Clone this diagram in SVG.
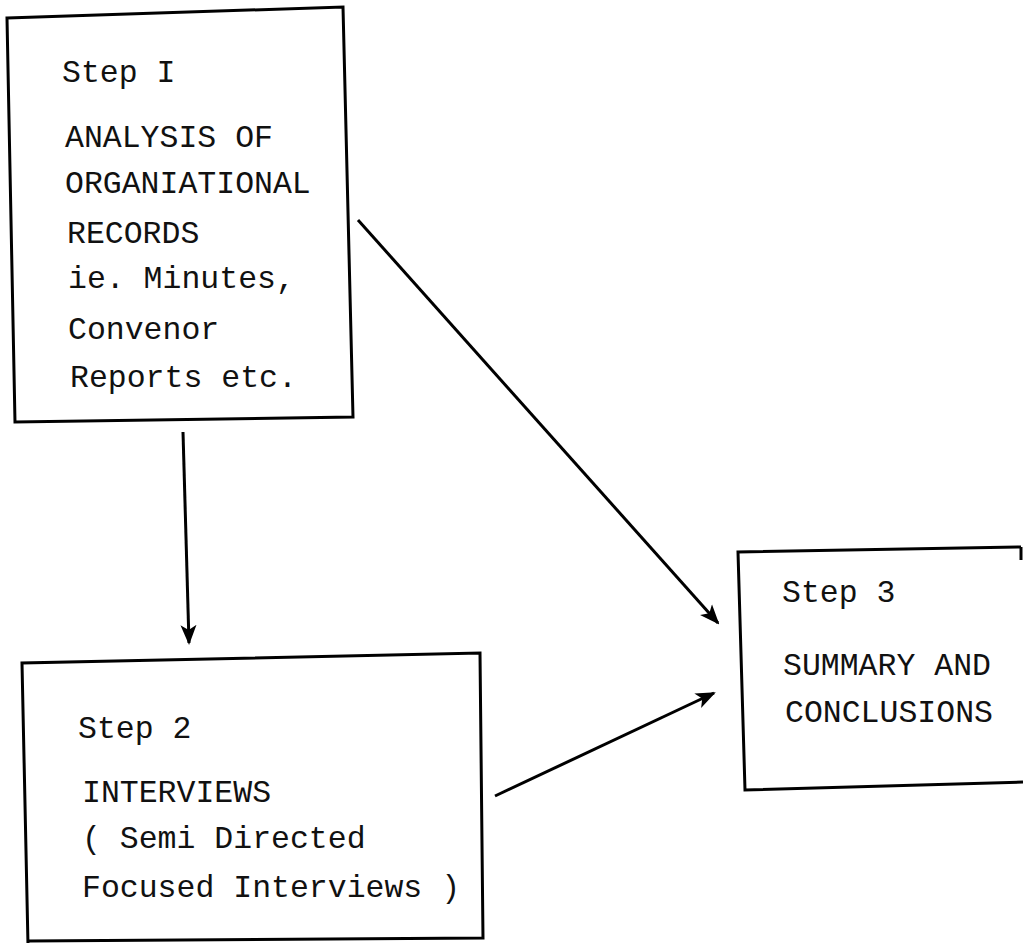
<svg xmlns="http://www.w3.org/2000/svg" width="1023" height="943" viewBox="0 0 1023 943">
<style>
.box{fill:none;stroke:#000;stroke-width:3;stroke-linejoin:miter}
.t{font-family:"Liberation Mono","DejaVu Sans Mono",monospace;font-size:31.5px;fill:#111}
.conn{stroke:#000;stroke-width:3;fill:none}
</style>
<defs>
<marker id="ah" markerUnits="userSpaceOnUse" markerWidth="20" markerHeight="20" viewBox="0 0 20 20" refX="18" refY="10" orient="auto">
<path d="M0,2 L20,10 L0,18 L5,10 Z" fill="#000"/>
</marker>
</defs>
<rect width="1023" height="943" fill="#fff"/>
<g id="step1">
<polygon class="box" points="7,18 343,7 353,417 15,422"/>
<text class="t" x="62" y="82">Step I</text>
<text class="t" x="65" y="147">ANALYSIS OF</text>
<text class="t" x="65" y="193">ORGANIATIONAL</text>
<text class="t" x="67" y="243">RECORDS</text>
<text class="t" x="68" y="288">ie. Minutes,</text>
<text class="t" x="68" y="339">Convenor</text>
<text class="t" x="70" y="387">Reports etc.</text>
</g>
<g id="step2">
<polyline class="box" points="28,945 22,663 480,653 483,938 28,941"/>
<text class="t" x="78" y="738">Step 2</text>
<text class="t" x="82" y="802">INTERVIEWS</text>
<text class="t" x="82" y="848">( Semi Directed</text>
<text class="t" x="82" y="897">Focused Interviews )</text>
</g>
<g id="step3">
<polyline class="box" points="1021,547 738,552 745,790 1023,782"/>
<line class="box" x1="1021" y1="547" x2="1021" y2="560"/>
<text class="t" x="782" y="602">Step 3</text>
<text class="t" x="783" y="675">SUMMARY AND</text>
<text class="t" x="785" y="722">CONCLUSIONS</text>
</g>
<g id="connectors">
<line class="conn" x1="183" y1="432" x2="189" y2="643" marker-end="url(#ah)"/>
<line class="conn" x1="358" y1="220" x2="718" y2="623" marker-end="url(#ah)"/>
<line class="conn" x1="495" y1="796" x2="714" y2="693" marker-end="url(#ah)"/>
</g>
</svg>
